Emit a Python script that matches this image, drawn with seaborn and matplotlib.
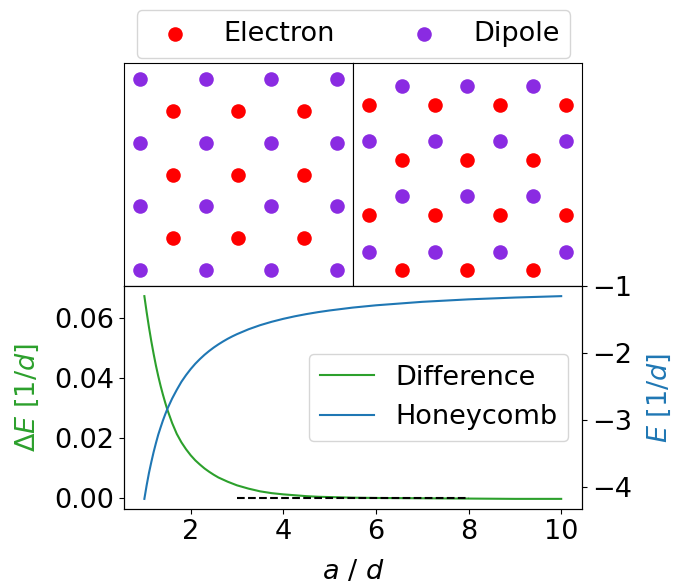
import matplotlib
matplotlib.use("Agg")
import matplotlib.pyplot as plt
import seaborn as sns

# lattice sites, in units of the lattice constant
square_e_x = [0.5, 1.5, 2.5] * 3
square_e_y = [0.5] * 3 + [1.5] * 3 + [2.5] * 3
square_d_x = [0, 1, 2, 3] * 4
square_d_y = [0] * 4 + [1] * 4 + [2] * 4 + [3] * 4

honey_e_x = [0.5, 1.5, 2.5] + [0, 1, 2, 3] + [0.5, 1.5, 2.5] + [0, 1, 2, 3]
honey_e_y = [0.0] * 3 + [0.866] * 4 + [1.732] * 3 + [2.598] * 4
honey_d_x = [0, 1, 2, 3] + [0.5, 1.5, 2.5] + [0, 1, 2, 3] + [0.5, 1.5, 2.5]
honey_d_y = [0.289] * 4 + [1.155] * 3 + [2.021] * 4 + [2.887] * 3

# energies vs a/d
a_over_d = [1.0, 1.05, 1.1, 1.15, 1.2, 1.25, 1.3, 1.35, 1.4, 1.45, 1.5, 1.6,
            1.7, 1.8, 1.9, 2.0, 2.1, 2.2, 2.3, 2.4, 2.5, 2.6, 2.7, 2.8, 2.9,
            3.0, 3.25, 3.5, 3.75, 4.0, 4.25, 4.5, 4.75, 5.0, 5.5, 6.0, 7.0,
            8.0, 9.0, 10.0]
difference = [0.0672, 0.0618, 0.0568, 0.0522, 0.0480, 0.0441, 0.0406, 0.0374,
              0.0345, 0.0318, 0.0293, 0.0250, 0.0214, 0.0186, 0.0163, 0.0143,
              0.0126, 0.0112, 0.0099, 0.0088, 0.0078, 0.0069, 0.0062, 0.0055,
              0.0049, 0.0043, 0.0032, 0.0023, 0.0017, 0.0013, 0.0010, 0.0007,
              0.0005, 0.0004, 0.0002, 0.0001, 0.0000, -0.0001, -0.0002, -0.0002]
honeycomb = [-4.18, -3.975, -3.79, -3.63, -3.48, -3.346, -3.22, -3.113, -3.01,
             -2.917, -2.83, -2.68, -2.55, -2.43, -2.33, -2.24, -2.16, -2.09,
             -2.026, -1.969, -1.917, -1.87, -1.827, -1.787, -1.751, -1.718,
             -1.645, -1.584, -1.533, -1.489, -1.451, -1.418, -1.389, -1.364,
             -1.321, -1.287, -1.235, -1.198, -1.171, -1.15]
ref_x = [3, 8]
ref_y = [0, 0]

FS = 19.5

fig = plt.figure(figsize=(6.87, 5.85), dpi=100)
ax_sq = fig.add_axes([0.1805, 0.5111, 0.3333, 0.3812])
ax_hc = fig.add_axes([0.5138, 0.5111, 0.3333, 0.3812])
ax = fig.add_axes([0.1798, 0.1299, 0.6674, 0.3812])
ax2 = ax.twinx()

# lattice panels
for a, ex, ey, dx, dy in [(ax_sq, square_e_x, square_e_y, square_d_x, square_d_y),
                          (ax_hc, honey_e_x, honey_e_y, honey_d_x, honey_d_y)]:
    sns.scatterplot(x=ex, y=ey, color="red", s=110, linewidth=0, ax=a,
                    label="Electron", legend=False)
    sns.scatterplot(x=dx, y=dy, color="blueviolet", s=110, linewidth=0, ax=a,
                    label="Dipole", legend=False)
    a.set_xlim(-0.25, 3.25)
    a.set_ylim(-0.25, 3.25)
    a.set_xticks([])
    a.set_yticks([])
    a.set_xlabel("")
    a.set_ylabel("")

h, l = ax_sq.get_legend_handles_labels()
fig.legend(h, l, loc="lower center", bbox_to_anchor=(0.5146, 0.9009), ncol=2,
           fontsize=FS, columnspacing=2.3, borderaxespad=0, scatterpoints=1)

# energy curves
sns.lineplot(x=a_over_d, y=difference, color="tab:green", ax=ax,
             label="Difference", legend=False)
sns.lineplot(x=ref_x, y=ref_y, color="black", linestyle="--", ax=ax, legend=False)
sns.lineplot(x=a_over_d, y=honeycomb, color="tab:blue", ax=ax2,
             label="Honeycomb", legend=False)

ax.set_xlabel("$a$ / $d$", fontsize=FS, labelpad=10)
ax.set_ylabel(r"$\Delta E$ [1/$d$]", fontsize=FS, color="tab:green", labelpad=9)
ax2.set_ylabel("$E$ [1/$d$]", fontsize=FS, color="tab:blue", labelpad=10)
ax.tick_params(labelsize=FS)
ax2.tick_params(labelsize=FS)

h1, l1 = ax.get_legend_handles_labels()
h2, l2 = ax2.get_legend_handles_labels()
ax2.legend(h1 + h2, l1 + l2, loc="center right", fontsize=FS)

fig.savefig("out.png", dpi=100)
